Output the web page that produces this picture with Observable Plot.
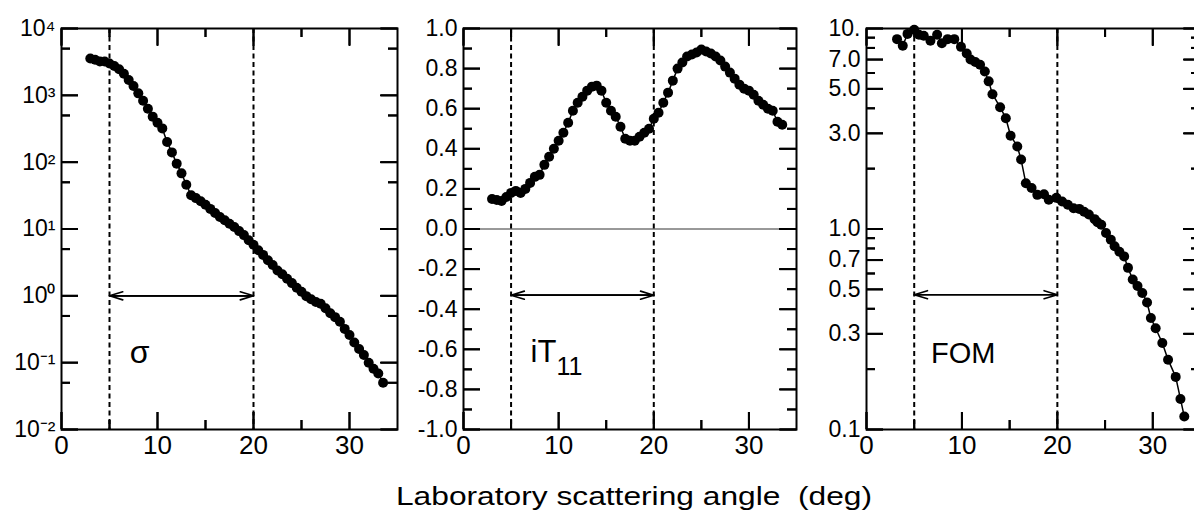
<!DOCTYPE html>
<html><head><meta charset="utf-8">
<script src="https://cdn.jsdelivr.net/npm/d3@7"></script>
<script src="https://cdn.jsdelivr.net/npm/@observablehq/plot@0.6"></script>
<style>
html,body{margin:0;padding:0;background:#fff;}
#fig{position:relative;width:1194px;height:513px;overflow:hidden;font-family:"Liberation Sans",Arial,Helvetica,sans-serif;background:#fff;}
#fig > svg{position:absolute;top:0;}
#fig svg text{font-family:"Liberation Sans",Arial,Helvetica,sans-serif;}
#xlabel{position:absolute;left:634px;top:483px;font-size:26px;line-height:26px;white-space:nowrap;transform:translateX(-50%) scaleX(1.22);color:#000;}
</style>
</head><body>
<div id="fig"><div id="xlabel">Laboratory scattering angle&nbsp; (deg)</div></div>
<script>
// ---- data ----
const angles = [3,3.5,4,4.5,5,5.5,6,6.5,7,7.5,8,8.5,9,9.5,10,10.5,11,11.5,12,12.5,13,13.5,14,14.5,15,15.5,16,16.5,17,17.5,18,18.5,19,19.5,20,20.5,21,21.5,22,22.5,23,23.5,24,24.5,25,25.5,26,26.5,27,27.5,28,28.5,29,29.5,30,30.5,31,31.5,32,32.5,33,33.5];
const sigma = [3550,3400,3200,3200,3000,2750,2450,2100,1700,1380,1070,830,630,480,390,320,200,140,95,68,46,32,29,26,23,20,17.4,15.1,13.5,12,10.7,9.3,8.1,6.8,5.8,4.8,4.1,3.4,2.9,2.4,2.1,1.8,1.55,1.32,1.15,0.99,0.89,0.81,0.76,0.65,0.55,0.48,0.41,0.32,0.26,0.20,0.16,0.13,0.10,0.081,0.069,0.050];
const iT11 = [0.15,0.145,0.14,0.16,0.18,0.19,0.18,0.20,0.23,0.26,0.27,0.32,0.36,0.40,0.44,0.48,0.53,0.59,0.63,0.66,0.69,0.71,0.715,0.69,0.63,0.59,0.56,0.51,0.45,0.44,0.44,0.46,0.48,0.50,0.55,0.58,0.63,0.68,0.74,0.80,0.83,0.86,0.87,0.88,0.895,0.885,0.875,0.86,0.84,0.81,0.78,0.75,0.72,0.70,0.69,0.67,0.64,0.62,0.60,0.59,0.535,0.52];
const fomAngles = [3.2,3.8,4.3,5.0,5.5,6.0,6.7,7.4,7.9,8.5,9.2,9.9,10.5,10.9,11.4,11.9,12.4,12.8,13.2,14.0,14.6,15.1,15.8,16.2,16.7,17.3,17.9,18.6,19.1,19.9,20.5,21.1,21.7,22.3,22.8,23.3,23.9,24.2,24.6,25.1,25.6,26.0,26.5,27.0,27.4,27.9,28.4,28.9,29.4,29.8,30.3,31.0,31.6,32.4,32.9,33.3];
const fom = [8.85,8.2,9.4,9.85,9.3,9.2,8.7,9.3,8.45,8.85,8.85,8.1,7.5,7.0,6.8,6.6,6.1,5.45,4.7,4.05,3.57,2.92,2.58,2.22,1.69,1.60,1.48,1.49,1.40,1.43,1.37,1.32,1.27,1.26,1.22,1.18,1.12,1.08,1.05,0.955,0.885,0.82,0.77,0.73,0.64,0.56,0.52,0.48,0.43,0.36,0.32,0.27,0.223,0.183,0.142,0.116];

const xDomain = [0, 35];
const xMajor = [0, 10, 20, 30];
const xMinor = [5, 15, 25];
const rangeBounds = [5, 20];

const sigmaDomain = [0.01, 10000];
const sigmaMajor = [0.01, 0.1, 1, 10, 100, 1000, 10000];
const sigmaMinor = [0.05, 0.5, 5, 50, 500, 5000];
const sigmaLabels = ["10⁻²","10⁻¹","10⁰","10¹","10²","10³","10⁴"];

const t11Domain = [-1, 1];
const t11Major = [-1,-0.8,-0.6,-0.4,-0.2,0,0.2,0.4,0.6,0.8,1];
const t11Minor = [-0.9,-0.7,-0.5,-0.3,-0.1,0.1,0.3,0.5,0.7,0.9];
const t11Labels = ["-1.0","-0.8","-0.6","-0.4","-0.2","0.0","0.2","0.4","0.6","0.8","1.0"];

const fomDomain = [0.1, 10];
const fomMajor = [0.1, 0.3, 0.5, 0.7, 1, 3, 5, 7, 10];
const fomMinor = [0.2, 0.4, 0.6, 0.8, 0.9, 2, 4, 6, 8, 9];
const fomLabels = ["0.1","0.3","0.5","0.7","1.0","3.0","5.0","7.0","10."];

const arrowY = {sigma: 1, t11: -0.33, fom: 0.47};
const annotations = {
  sigma: {x: 7.1, y: 0.1, text: "σ", sub: ""},
  t11: {x: 7.05, y: -0.663, text: "iT", sub: "11"},
  fom: {x: 6.75, y: 0.215, text: "FOM", sub: ""}
};

// ---- drawing ----
const H = 470, MT = 28, MB = 41, MAJ = 17, MIN = 9;

function panel({left, width, ml, mr, yType, yDomain, major, minor, labels, pts, arrowAt, note, noteSize, extra = []}) {
  const fw = width - ml - mr, fh = H - MT - MB;
  const [xa, xb] = xDomain, [ya, yb] = yDomain;
  const lab = new Map(major.map((v, i) => [v, labels[i]]));
  // tick lengths in pixels, expressed through the scales' extents
  const dxOf = px => px * (xb - xa) / fw;
  const yUp = (v, px) => yType === "log" ? v * Math.pow(yb / ya, px / fh) : v + px * (yb - ya) / fh;
  const yDown = (v, px) => yType === "log" ? v / Math.pow(yb / ya, px / fh) : v - px * (yb - ya) / fh;
  const st = {stroke: "black", strokeWidth: 2};
  const ax = {...st, tickFormat: () => "", label: null, tickPadding: 0};
  const ruleTicks = (xs, ys, len) => [
    Plot.ruleX(xs, {x: d => d, y1: () => ya, y2: () => yUp(ya, len), ...st}),
    Plot.ruleX(xs, {x: d => d, y1: () => yb, y2: () => yDown(yb, len), ...st}),
    Plot.ruleY(ys, {y: d => d, x1: () => xa, x2: () => xa + dxOf(len), ...st}),
    Plot.ruleY(ys, {y: d => d, x1: () => xb, x2: () => xb - dxOf(len), ...st})
  ];
  const insetTicks = (xs, ys, len) => [
    Plot.tickX(xs, {x: d => d, insetTop: fh - len, ...st}),
    Plot.tickX(xs, {x: d => d, insetBottom: fh - len, ...st}),
    Plot.tickY(ys, {y: d => d, insetRight: fw - len, ...st}),
    Plot.tickY(ys, {y: d => d, insetLeft: fw - len, ...st})
  ];
  const marks = [
    ...extra,
    Plot.ruleX(rangeBounds, {strokeDasharray: "5,3.5", strokeWidth: 2, stroke: "black"}),
    Plot.arrow([{a: rangeBounds[0], b: rangeBounds[1], y: arrowAt}], {x1: "a", x2: "b", y1: "y", y2: "y", headLength: 13, headAngle: 34, strokeWidth: 1.6, stroke: "black"}),
    Plot.arrow([{a: rangeBounds[1], b: rangeBounds[0], y: arrowAt}], {x1: "a", x2: "b", y1: "y", y2: "y", headLength: 13, headAngle: 34, strokeWidth: 1.6, stroke: "black"}),
    Plot.line(pts, {x: "x", y: "y", stroke: "black", strokeWidth: 1.5}),
    Plot.dot(pts, {x: "x", y: "y", r: 5, fill: "black", stroke: "none"}),
    // inward ticks on all four sides
    Plot.axisX(xMajor, {anchor: "bottom", tickSize: -MAJ, ...ax}),
    Plot.axisX(xMajor, {anchor: "top", tickSize: -MAJ, ...ax}),
    Plot.axisY(major, {anchor: "left", tickSize: -MAJ, ...ax}),
    Plot.axisY(major, {anchor: "right", tickSize: -MAJ, ...ax}),
    ...ruleTicks(xMajor, major, MAJ),
    ...ruleTicks(xMinor, minor, MIN),
    ...insetTicks(xMinor, minor, MIN),
    Plot.frame({stroke: "black", strokeWidth: 2}),
    Plot.text(xMajor, {x: d => d, text: d => String(d), frameAnchor: "bottom", lineAnchor: "top", dy: 6, fontSize: 26, fill: "black"}),
    Plot.text(major, {y: d => d, text: d => lab.get(d), frameAnchor: "left", textAnchor: "end", dx: -6, fontSize: 23, fill: "black"}),
    Plot.text([note], {x: "x", y: "y", text: "text", textAnchor: "start", lineAnchor: "bottom", fontSize: noteSize, fill: "black"}),
    Plot.text([note], {x: "x", y: "y", text: "sub", textAnchor: "start", lineAnchor: "bottom", dx: 26, dy: 13, fontSize: 25, fill: "black"})
  ];
  const svg = Plot.plot({
    width, height: H, marginLeft: ml, marginRight: mr, marginTop: MT, marginBottom: MB,
    x: {domain: xDomain},
    y: {type: yType, domain: yDomain},
    style: {background: "transparent", overflow: "visible", maxWidth: "none", color: "black"},
    marks
  });
  svg.style.left = left + "px";
  document.getElementById("fig").appendChild(svg);
}

panel({
  left: 0, width: 400, ml: 61, mr: 3,
  yType: "log", yDomain: sigmaDomain,
  major: sigmaMajor, minor: sigmaMinor, labels: sigmaLabels,
  pts: angles.map((x, i) => ({x, y: sigma[i]})),
  arrowAt: arrowY.sigma, note: annotations.sigma, noteSize: 32
});
panel({
  left: 400, width: 400, ml: 63, mr: 4,
  yType: "linear", yDomain: t11Domain,
  major: t11Major, minor: t11Minor, labels: t11Labels,
  pts: angles.map((x, i) => ({x, y: iT11[i]})),
  arrowAt: arrowY.t11, note: annotations.t11, noteSize: 31,
  extra: [Plot.ruleY([0], {stroke: "#333", strokeWidth: 1})]
});
panel({
  left: 790, width: 412, ml: 76, mr: 2,
  yType: "log", yDomain: fomDomain,
  major: fomMajor, minor: fomMinor, labels: fomLabels,
  pts: fomAngles.map((x, i) => ({x, y: fom[i]})),
  arrowAt: arrowY.fom, note: annotations.fom, noteSize: 29
});
</script>
</body></html>
